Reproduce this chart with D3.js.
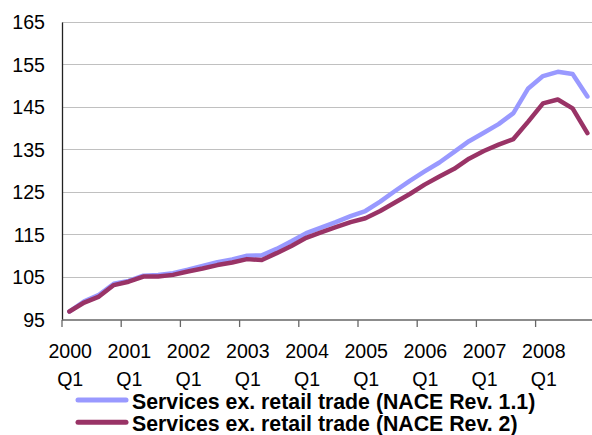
<!DOCTYPE html>
<html><head><meta charset="utf-8">
<script src="https://cdn.jsdelivr.net/npm/d3@7"></script>
<style>body{margin:0;background:#fff}svg{display:block}</style>
</head><body>
<script>
const years = ["2000","2001","2002","2003","2004","2005","2006","2007","2008"];
const quarters = [];
years.forEach(y => ["Q1","Q2","Q3","Q4"].forEach(q => quarters.push(y + " " + q)));
const seriesNames = ["Services ex. retail trade (NACE Rev. 1.1)", "Services ex. retail trade (NACE Rev. 2)"];
const rev11 = [97.0, 99.4, 100.9, 103.5, 104.2, 105.4, 105.6, 106.0,
  106.8, 107.7, 108.6, 109.2, 110.1, 110.2, 111.7, 113.5,
  115.4, 116.7, 118.0, 119.4, 120.6, 122.8, 125.3, 127.7,
  129.9, 132.0, 134.5, 137.0, 139.0, 141.0, 143.6, 149.4,
  152.3, 153.3, 152.8, 147.5];
const rev2 = [97.0, 99.1, 100.5, 103.2, 104.0, 105.2, 105.2, 105.6,
  106.4, 107.1, 107.9, 108.5, 109.3, 109.1, 110.7, 112.4,
  114.3, 115.6, 116.8, 118.0, 118.9, 120.6, 122.6, 124.6,
  126.8, 128.7, 130.5, 132.9, 134.7, 136.2, 137.5, 141.6,
  145.9, 146.8, 144.7, 138.9];
const yTicks = [95, 105, 115, 125, 135, 145, 155, 165];
const colors = ["#9999FF", "#993366"];

const FONT = "'Liberation Sans', Arial, sans-serif";
const W = 592, H = 435;
const svg = d3.select("body").append("svg").attr("width", W).attr("height", H)
  .style("font-family", FONT);
const x0 = 62, step = 14.8;
const x = d3.scaleBand().domain(quarters).range([x0, x0 + step * quarters.length]).padding(0);
const y = d3.scaleLinear().domain([95, 165]).range([320, 22]);

// gridlines
svg.append("g").selectAll("line").data(yTicks.slice(1)).join("line")
  .attr("x1", x0).attr("x2", W).attr("y1", d => y(d)).attr("y2", d => y(d))
  .attr("stroke", "#c0c0c0").attr("stroke-width", 1).attr("shape-rendering", "crispEdges");

// y axis
const yAxis = svg.append("g").attr("transform", `translate(${x0},0)`)
  .call(d3.axisLeft(y).tickValues(yTicks).tickSize(0).tickPadding(17));
yAxis.attr("font-family", FONT);
yAxis.select(".domain").attr("stroke", "#222").attr("stroke-width", 1.3);
yAxis.selectAll("text").attr("font-size", 19.6).attr("fill", "#000").attr("dy", "0.33em");

// x axis
const xAxisG = svg.append("g").attr("transform", `translate(0,${y(95)})`);
xAxisG.append("line").attr("x1", x0).attr("x2", W).attr("y1", 0).attr("y2", 0)
  .attr("stroke", "#666").attr("stroke-width", 1.3);
const yearStarts = quarters.filter(q => q.endsWith("Q1"));
xAxisG.selectAll("line.tk").data(yearStarts).join("line").attr("class", "tk")
  .attr("x1", d => x(d)).attr("x2", d => x(d)).attr("y1", 0).attr("y2", 7)
  .attr("stroke", "#666").attr("stroke-width", 1.3);
const lbl = xAxisG.selectAll("text.yl").data(yearStarts).join("text").attr("class", "yl")
  .attr("x", d => x(d) + x.bandwidth() / 2 + 0.8).attr("text-anchor", "middle")
  .attr("font-size", 19.6).attr("fill", "#000");
lbl.append("tspan").attr("x", d => x(d) + x.bandwidth() / 2 + 0.8).attr("y", 38.3).text(d => d.split(" ")[0]);
lbl.append("tspan").attr("x", d => x(d) + x.bandwidth() / 2 + 0.8).attr("y", 65.5).text(d => d.split(" ")[1]);

// lines
const line = d3.line().x((d, i) => x(quarters[i]) + x.bandwidth() / 2).y(d => y(d));
[rev11, rev2].forEach((s, k) => {
  svg.append("path").datum(s).attr("d", line).attr("fill", "none")
    .attr("stroke", colors[k]).attr("stroke-width", 4.5).attr("stroke-linejoin", "round").attr("stroke-linecap", "round");
});

// legend
const leg = svg.append("g");
seriesNames.forEach((n, k) => {
  const ly = 400 + k * 22.3;
  leg.append("line").attr("x1", 78).attr("x2", 126).attr("y1", ly).attr("y2", ly)
    .attr("stroke", colors[k]).attr("stroke-width", 5).attr("stroke-linecap", "round");
  leg.append("text").attr("x", 132).attr("y", ly + 8.6).attr("font-size", 21.3).attr("font-weight", "bold")
    .attr("fill", "#000").text(n);
});
</script>
</body></html>
